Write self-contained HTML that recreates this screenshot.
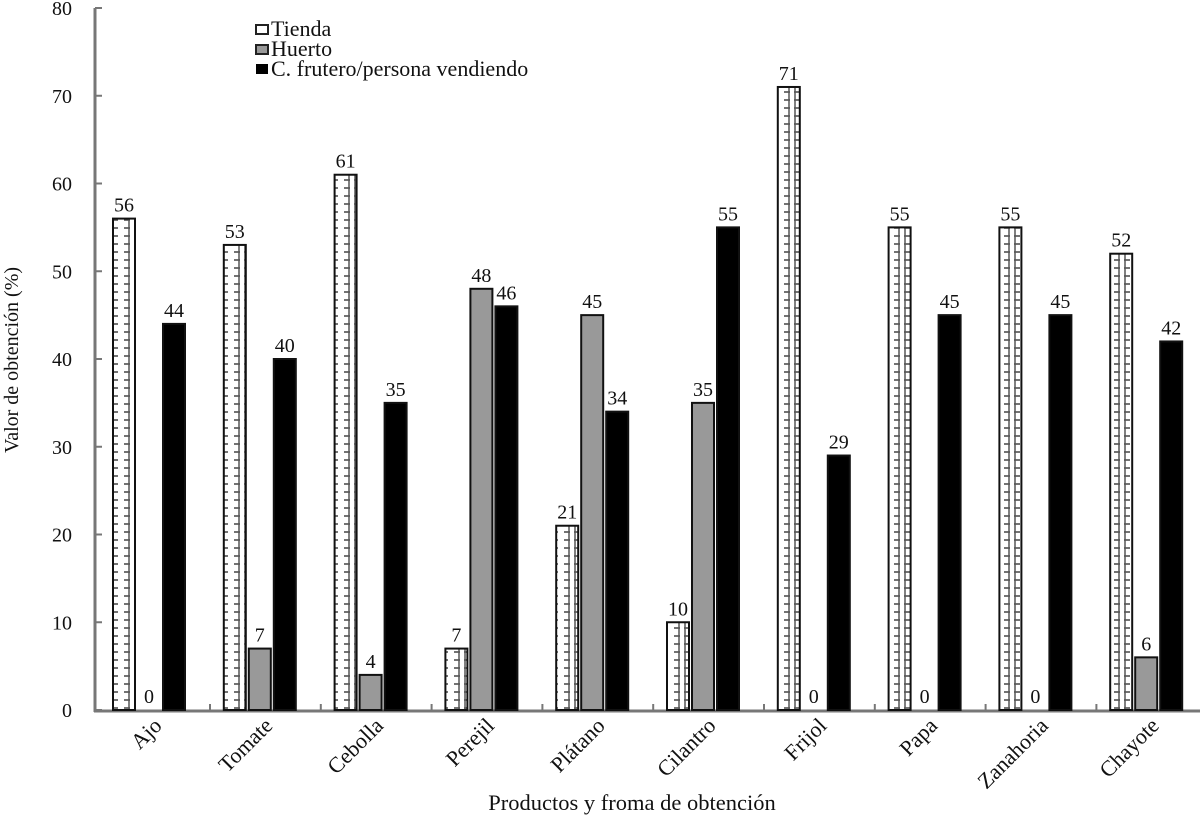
<!DOCTYPE html>
<html><head><meta charset="utf-8"><style>
body{margin:0;background:#fff}
svg text{font-family:"Liberation Serif",serif;fill:#111}
</style></head><body>
<svg id="c" width="1203" height="818" xmlns="http://www.w3.org/2000/svg">
<defs>
<pattern id="lad" width="22" height="8" patternUnits="userSpaceOnUse">
<rect width="22" height="8" fill="#fff"/>
<line x1="2" y1="4" x2="8" y2="4" stroke="#444" stroke-width="1.5"/>
<line x1="14" y1="4" x2="20" y2="4" stroke="#444" stroke-width="1.5"/>
<line x1="3" y1="0" x2="3" y2="8" stroke="#555" stroke-width="1.5"/>
<line x1="19" y1="0" x2="19" y2="8" stroke="#555" stroke-width="1.5"/>
</pattern>
</defs>
<g id="axes"></g>
<g id="bars"></g>
<g>
<rect x="256" y="25" width="12" height="9" fill="#fff" stroke="#222" stroke-width="2"/>
<text x="271" y="36" font-size="22">Tienda</text>
<rect x="256" y="45" width="12" height="9" fill="#999" stroke="#222" stroke-width="2"/>
<text x="271" y="56" font-size="22">Huerto</text>
<rect x="256" y="64" width="12" height="10" fill="#000"/>
<text x="271" y="76" font-size="22">C. frutero/persona vendiendo</text>
</g>
<text x="18" y="360" font-size="20" text-anchor="middle" transform="rotate(-90 18 360)">Valor de obtención (%)</text>
<text x="632" y="810" font-size="22.5" text-anchor="middle">Productos y froma de obtención</text>
</svg>
<script>
const categories=["Ajo","Tomate","Cebolla","Perejil","Plátano","Cilantro","Frijol","Papa","Zanahoria","Chayote"];
const tienda=[56,53,61,7,21,10,71,55,55,52];
const huerto=[0,7,4,48,45,35,0,0,0,6];
const frutero=[44,40,35,46,34,55,29,45,45,42];
const yTicks=[0,10,20,30,40,50,60,70,80];
const NS="http://www.w3.org/2000/svg";
const y0=710,yTop=8,yMax=80;
const y=v=>y0-(v/yMax)*(y0-yTop);
const x=i=>113+i*110.8;
function mk(t,a,p){const e=document.createElementNS(NS,t);for(const k in a)e.setAttribute(k,a[k]);p.appendChild(e);return e;}
const ax=document.getElementById('axes'),bg=document.getElementById('bars');
const yl=mk('line',{x1:95,y1:8,x2:95,y2:712,stroke:'#777','stroke-width':3},ax);


const xl=mk('line',{x1:94,y1:711,x2:1200,y2:711,stroke:'#777','stroke-width':3},ax);


yTicks.forEach(v=>{
 mk('line',{x1:95,y1:y(v),x2:102,y2:y(v),stroke:'#777','stroke-width':2},ax);
 const t=mk('text',{x:72,y:y(v)+7,'font-size':20,'text-anchor':'end'},ax);t.textContent=v;
 
 
});
categories.forEach((c,i)=>{
 const bx=x(i);
 mk('line',{x1:bx+97,y1:711,x2:bx+97,y2:704,stroke:'#777','stroke-width':2},ax);
 const series=[[tienda[i],'url(#lad)',0,'bar-tienda'],[huerto[i],'#999',25,'bar-huerto'],[frutero[i],'#000',50,'bar-frutero']];
 series.forEach(([v,f,o,n])=>{
  if(v>0){const r=mk('rect',{x:bx+o,y:y(v),width:22,height:y0-y(v),fill:f,stroke:'#111','stroke-width':2},bg);
   
   }
  const t=mk('text',{x:bx+o+11,y:y(v)-7,'font-size':20,'text-anchor':'middle'},bg);t.textContent=v;
  
  
 });
 const lx=bx+50,ly=727;
 const t=mk('text',{x:lx,y:ly,'font-size':22,'text-anchor':'end',transform:`rotate(-45 ${lx} ${ly})`},ax);
 t.textContent=c;
 
 
});
</script>
</body></html>
